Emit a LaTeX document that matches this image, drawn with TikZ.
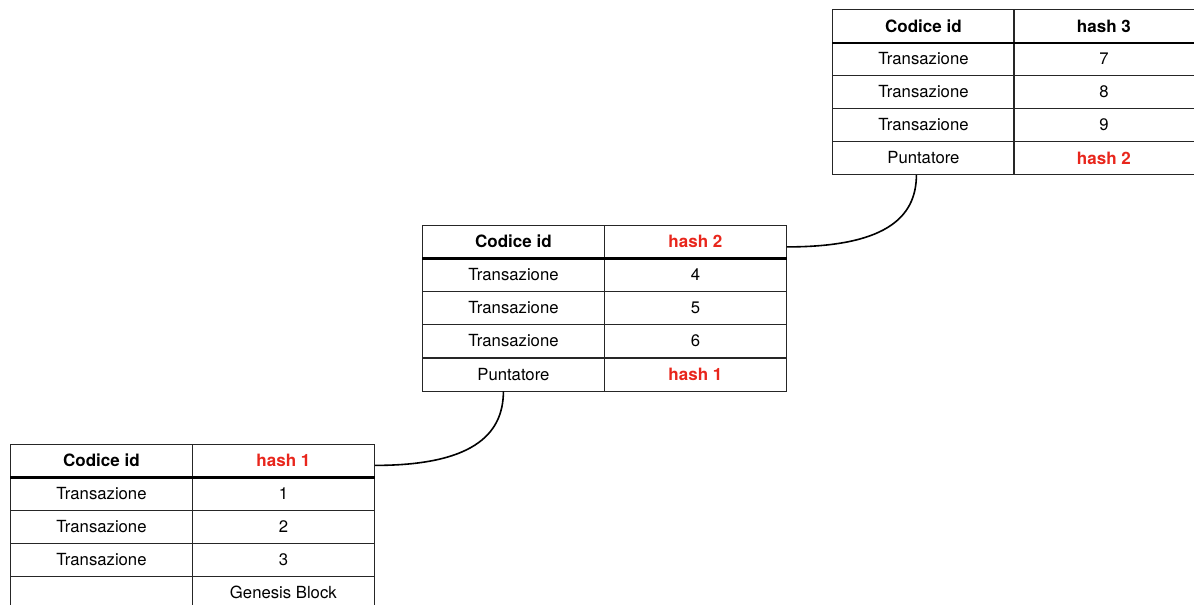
\documentclass[tikz,border=0pt]{standalone}
\usepackage{fontspec}
\setmainfont{TeX Gyre Heros}
\definecolor{hashred}{HTML}{E8261C}
\begin{document}
\begin{tikzpicture}[x=1pt,y=-1pt,
  cell/.style={draw=black!85, line width=0.8pt, minimum width=182pt, minimum height=33pt,
    inner sep=0pt, anchor=north west, font=\fontsize{16.7}{19}\selectfont},
  headcell/.style={cell, font=\fontsize{17}{19}\selectfont\bfseries},
  hot/.style={text=hashred},
  rule/.style={line width=2.6pt, black},
  link/.style={line width=1.6pt, black}]
\useasboundingbox (0,0) rectangle (1194,605);

% block 3 (top right)
\node[headcell] (c1h) at (832,9) {Codice id};
\node[headcell, minimum width=181pt] (c2h) at (1013,9) {hash 3};
\node[cell] (c1a) at (832,42) {Transazione};
\node[cell, minimum width=181pt] (c2a) at (1013,42) {7};
\node[cell] (c1b) at (832,75) {Transazione};
\node[cell, minimum width=181pt] (c2b) at (1013,75) {8};
\node[cell] (c1c) at (832,108) {Transazione};
\node[cell, minimum width=181pt] (c2c) at (1013,108) {9};
\node[cell] (c1p) at (832,141) {Puntatore};
\node[headcell, hot, minimum width=181pt] (c2p) at (1013,141) {hash 2};
\draw[rule] (c1h.south west) -- (c2h.south east);

% block 2 (middle)
\node[headcell] (b1h) at (422,224.5) {Codice id};
\node[headcell, hot] (b2h) at (604,224.5) {hash 2};
\node[cell] (b1a) at (422,258) {Transazione};
\node[cell] (b2a) at (604,258) {4};
\node[cell] (b1b) at (422,291) {Transazione};
\node[cell] (b2b) at (604,291) {5};
\node[cell] (b1c) at (422,324) {Transazione};
\node[cell] (b2c) at (604,324) {6};
\node[cell] (b1p) at (422,357.5) {Puntatore};
\node[headcell, hot] (b2p) at (604,357.5) {hash 1};
\draw[rule] (b1h.south west) -- (b2h.south east);

% block 1 (genesis, bottom left)
\node[headcell] (a1h) at (10,443.5) {Codice id};
\node[headcell, hot] (a2h) at (192,443.5) {hash 1};
\node[cell] (a1a) at (10,477) {Transazione};
\node[cell] (a2a) at (192,477) {1};
\node[cell] (a1b) at (10,510) {Transazione};
\node[cell] (a2b) at (192,510) {2};
\node[cell] (a1c) at (10,543) {Transazione};
\node[cell] (a2c) at (192,543) {3};
\node[cell] (a1p) at (10,576) {};
\node[cell] (a2p) at (192,576) {Genesis Block};
\draw[rule] (a1h.south west) -- (a2h.south east);

% pointers between blocks
\draw[link] ([yshift=-5.5pt]b2h.east) .. controls +(95,0) and +(0,45) .. ([xshift=-7pt]c1p.south);
\draw[link] ([yshift=-5pt]a2h.east) .. controls +(95,0) and +(0,45) .. ([xshift=-10pt]b1p.south);
\end{tikzpicture}
\end{document}
